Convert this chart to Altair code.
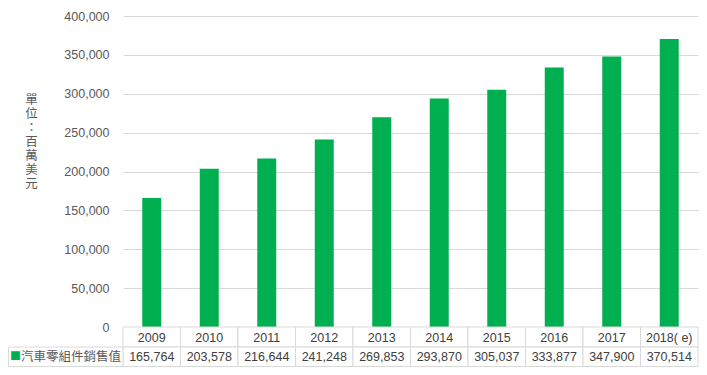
import altair as alt
import pandas as pd

years = ["2009", "2010", "2011", "2012", "2013", "2014", "2015", "2016", "2017", "2018( e)"]
values = [165764, 203578, 216644, 241248, 269853, 293870, 305037, 333877, 347900, 370514]
series_name = "汽車零組件銷售值"
y_title = "單位：百萬美元"
y_ticks = [0, 50000, 100000, 150000, 200000, 250000, 300000, 350000, 400000]

df = pd.DataFrame({"year": years, "value": values})
df["label"] = [f"{v:,}" for v in values]
name_df = pd.DataFrame({"name": [series_name], "marker": ["■"]})

W, H = 575, 311
R1, R2 = 20, 19.5
GRID = "#d9d9d9"
TXT = "#404040"
NUMFONT = "Liberation Sans"
CJK = "Noto Sans CJK TC"

x = alt.X("year:N", sort=years, axis=None,
          scale=alt.Scale(paddingInner=0, paddingOuter=0))

bars = alt.Chart(df).mark_bar(color="#00b050", width={"band": 0.33}).encode(
    x=x,
    y=alt.Y("value:Q", scale=alt.Scale(domain=[0, 400000]),
            axis=alt.Axis(values=y_ticks, format=",.0f", title=list(y_title),
                          titleAngle=0, titleX=-92, titleY=77,
                          titleBaseline="top", titleAlign="center",
                          titleLineHeight=14, titleFont=CJK, titleFontSize=12.5,
                          titleFontWeight="normal", titleColor="#595959",
                          labelFont=NUMFONT, labelFontSize=12.5,
                          labelColor="#595959", labelPadding=14,
                          grid=True, gridColor=GRID, domain=False, ticks=False)),
)

cells1 = alt.Chart(df).mark_rect(fill="white", stroke=GRID, strokeWidth=1).encode(
    x=x, y=alt.value(H), y2=alt.value(H + R1))
cells2 = alt.Chart(df).mark_rect(fill="white", stroke=GRID, strokeWidth=1).encode(
    x=x, y=alt.value(H + R1), y2=alt.value(H + R1 + R2))

year_text = alt.Chart(df).mark_text(font=NUMFONT, fontSize=12.5, color=TXT,
                                    baseline="middle").encode(
    x=x, y=alt.value(H + R1 / 2 + 0.5), text="year:N")
val_text = alt.Chart(df).mark_text(font=NUMFONT, fontSize=12.5, color=TXT,
                                   baseline="middle").encode(
    x=x, y=alt.value(H + R1 + R2 / 2 + 0.5), text="label:N")

name_cell = alt.Chart(name_df).mark_rect(fill="white", stroke=GRID, strokeWidth=1).encode(
    x=alt.value(-114.5), x2=alt.value(0), y=alt.value(H + R1), y2=alt.value(H + R1 + R2))
name_marker = alt.Chart(name_df).mark_text(font=CJK, fontSize=11, color="#00b050",
                                           align="left", baseline="middle").encode(
    x=alt.value(-113), y=alt.value(H + R1 + R2 / 2), text="marker:N")
name_text = alt.Chart(name_df).mark_text(font=CJK, fontSize=12.5, color="#595959",
                                         align="left", baseline="middle").encode(
    x=alt.value(-102), y=alt.value(H + R1 + R2 / 2), text="name:N")

chart = alt.layer(
    bars, cells1, cells2, year_text, val_text, name_cell, name_marker, name_text
).properties(
    width=W, height=H,
    autosize=alt.AutoSizeParams(type="none"),
    padding={"left": 115, "top": 8, "right": 1, "bottom": 41},
).configure_view(stroke=None)

chart.save("out.html", embed_options={"renderer": "svg", "actions": False})
